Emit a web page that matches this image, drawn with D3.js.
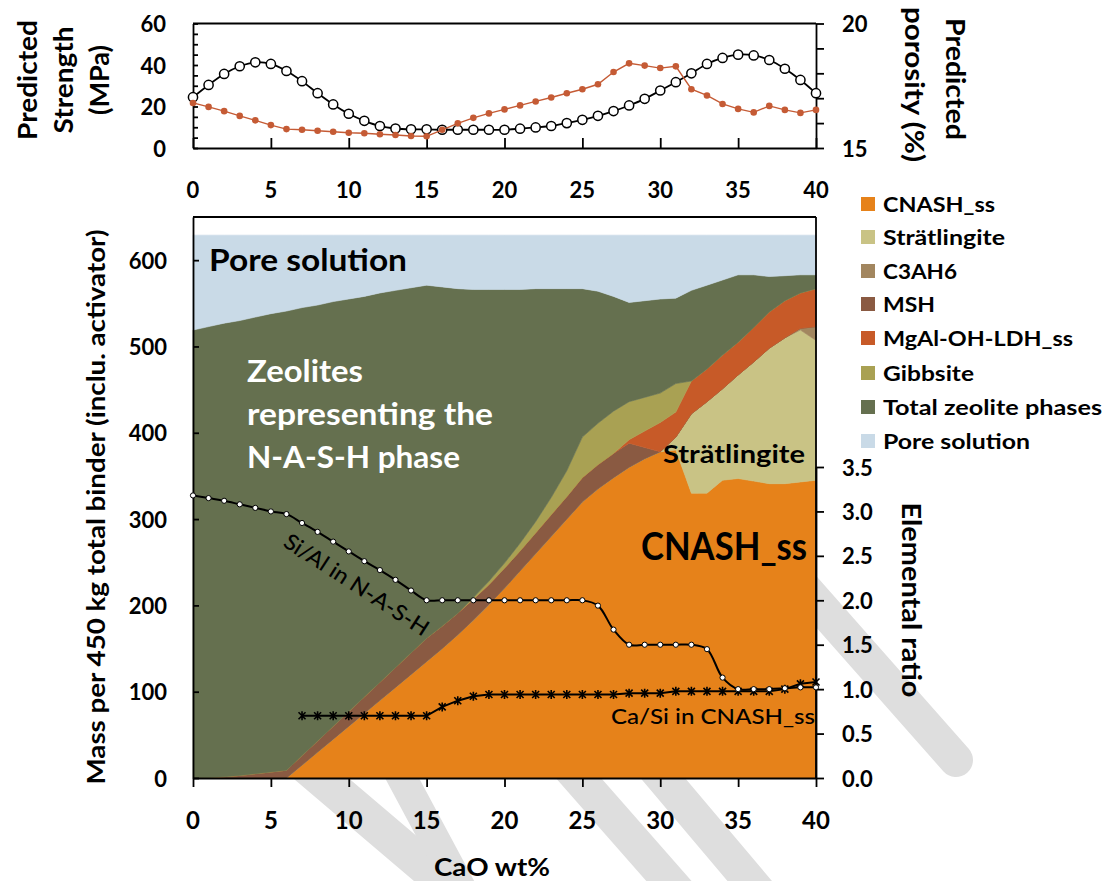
<!DOCTYPE html>
<html>
<head>
<meta charset="utf-8">
<script src="https://cdn.jsdelivr.net/npm/d3@7"></script>
<style>
  body { margin: 0; background: #fff; }
  svg { display: block; }
  text { font-family: Lato, "Open Sans", sans-serif; }
</style>
</head>
<body>
<svg id="chart" width="1112" height="881"></svg>
<script>
// ---- data -------------------------------------------------------------
const cao = d3.range(0, 41); // CaO wt%

// predicted properties (top panel)
const strength = [24.5,30.4,35.7,39.4,41.3,40.5,37.1,32.2,26.4,21.0,
                  16.5,13.1,10.6,9.4,9.0,9.0,8.8,8.8,8.8,8.8,
                  8.8,9.3,9.9,10.6,12.0,13.6,15.5,17.8,20.5,23.7,
                  27.7,31.7,36.0,40.5,43.4,45.0,44.6,42.4,38.2,32.8,26.4];
const porosity = [16.81,16.65,16.48,16.29,16.11,15.92,15.76,15.73,15.69,15.65,
                  15.61,15.59,15.55,15.52,15.48,15.47,15.73,15.99,16.21,16.39,
                  16.55,16.71,16.87,17.03,17.20,17.36,17.56,18.05,18.40,18.31,
                  18.21,18.28,17.36,17.11,16.77,16.57,16.43,16.69,16.53,16.41,16.53];

// phase assemblage, mass per 450 kg binder (stacked, bottom to top)
const cnash    = [0,0,0,0,0,0,0,15,30,45, 60,75,90,105,120,135,150,166,183,201,
                  220,240,260,280,300,320,335,348,360,370, 378,380,330,330,345,347,344,341,341,343,345];
const strat    = [0,0,0,0,0,0,0,0,0,0, 0,0,0,0,0,0,0,0,0,0,
                  0,0,0,0,0,0,0,0,0,0, 0,15,92,106,106,120,138,157,169,176,162];
const c3ah6    = [0,0,0,0,0,0,0,0,0,0, 0,0,0,0,0,0,0,0,0,0,
                  0,0,0,0,0,0,0,0,0,0, 0,0,0,0,0,0,0,0,0,2,16];
const msh      = [0,0.5,1.5,3,5,7,9,11,13,15, 17,19,21,23,25,27,26,25,24,23,
                  23,23,24,25,26,28,28,28,28,13, 0,0,0,0,0,0,0,0,0,0,0];
const mgal     = [0,0,0,0,0,0,0,0,0,0, 0,0,0,0,0,0,0,0,0,0,
                  0,0,0,0,0,0,0,0,4,19, 34,29,38,38,39,38,40,42,43,41,44];
const gibbsite = [0,0,0,0,0,0,0,0,0,0, 0,0,0,0,0,0,0,0,2,4,
                  6,9,13,20,30,47,48,49,44,39, 34,33,0,0,0,0,0,0,0,0,0];
const zeolite  = [519,522.5,525.5,527,529,531,532,519,505,492, 478,464,451,437,423,409,393,376,357,338,
                  317,294,270,242,211,172,153,133,115,112, 109,99,105,97,87,78,61,41,29,21,16];
const pore     = [110,106,102,99,95,91,88,84,81,77, 74,71,67,64,61,58,60,62,63,63,
                  63,63,62,62,62,62,65,71,78,76, 74,73,64,58,52,46,46,48,47,46,46];

// elemental ratios (secondary axis)
const siAl = [3.18,3.15,3.12,3.08,3.04,3.00,2.97,2.87,2.77,2.66,
              2.55,2.44,2.34,2.23,2.11,2.00,2.00,2.00,2.00,2.00,
              2.00,2.00,2.00,2.00,2.00,2.00,1.94,1.67,1.50,1.50,
              1.50,1.50,1.50,1.45,1.13,1.00,1.00,1.00,1.01,1.02,1.02];
const caSiX = d3.range(7, 41);
const caSi = [0.70,0.70,0.70,0.70,0.70,0.70,0.70,0.70,0.70,0.80,
              0.87,0.92,0.94,0.94,0.94,0.94,0.94,0.94,0.94,0.94,
              0.94,0.955,0.955,0.955,0.975,0.975,0.975,0.975,0.975,0.975,
              0.975,1.00,1.06,1.08];

const phases = ["CNASH_ss","Strätlingite","C3AH6","MSH","MgAl-OH-LDH_ss","Gibbsite","Total zeolite phases","Pore solution"];
const phaseColors = ["#E6821A","#C9C385","#A2865F","#8A5A42","#C75A28","#A9A153","#65704F","#C9DAE7"];
const phaseSeries = [cnash, strat, c3ah6, msh, mgal, gibbsite, zeolite, pore];

const xTicks = [0,5,10,15,20,25,30,35,40];
const massTicks = [0,100,200,300,400,500,600];
const ratioTicks = [0,0.5,1,1.5,2,2.5,3,3.5];
const strengthTicks = [0,20,40,60];
const porosityTicks = [15,20];

// ---- scales -----------------------------------------------------------
const svg = d3.select("#chart");
const x  = d3.scaleLinear().domain([0, 40]).range([193, 816]);
const yS = d3.scaleLinear().domain([0, 60]).range([148, 23.5]);
const yP = d3.scaleLinear().domain([15, 20]).range([148, 23.5]);
const yM = d3.scaleLinear().domain([0, 650]).range([778, 217]);
const yR = d3.scaleLinear().domain([0, 3.5]).range([778, 467]);

const fit = (sel, w) => sel.attr("textLength", w).attr("lengthAdjust", "spacingAndGlyphs");

// ---- background watermark strokes (mostly hidden by the plot) ---------
const wm = svg.append("g").attr("stroke", "#DEDEDE").attr("stroke-linecap", "round")
  .attr("fill", "none");
[[[700,470],[956,760],34], [[270,735],[470,905],36], [[395,765],[470,905],30],
 [[560,757],[690,905],34], [[645,757],[770,905],34]].forEach(([a, b, w]) =>
  wm.append("path").attr("d", d3.line()([a, b])).attr("stroke-width", w));

// ---- top panel --------------------------------------------------------
const upper = svg.append("g");
const axStyle = g => g.selectAll("path,line").attr("stroke", "#000").attr("stroke-width", 1.8);

upper.append("g").attr("transform", `translate(${x(0)},0)`)
  .call(d3.axisLeft(yS).tickValues(d3.range(0, 61, 5)).tickSizeInner(-5).tickSizeOuter(0).tickFormat(""))
  .call(axStyle);
upper.append("g").attr("transform", `translate(${x(40)},0)`)
  .call(d3.axisRight(yP).tickValues([15,16,17,18,19,20]).tickSizeInner(8).tickSizeOuter(0).tickFormat(""))
  .call(axStyle);
upper.append("g").attr("transform", `translate(0,${yS(0)})`)
  .call(d3.axisBottom(x).tickValues(xTicks).tickSizeInner(-10).tickSizeOuter(0).tickFormat(""))
  .call(axStyle);
upper.append("line").attr("x1", x(0)).attr("x2", x(40)).attr("y1", yS(60)).attr("y2", yS(60))
  .attr("stroke", "#000").attr("stroke-width", 1.8);

upper.selectAll(".sl").data(strengthTicks).join("text")
  .attr("x", 166).attr("y", d => yS(d)).attr("text-anchor", "end").attr("dominant-baseline", "central")
  .attr("font-size", 22).attr("font-weight", 700).text(d => d);
upper.selectAll(".pl").data(porosityTicks).join("text")
  .attr("x", 842).attr("y", d => yP(d)).attr("dominant-baseline", "central")
  .attr("font-size", 22).attr("font-weight", 700).text(d => d);
upper.selectAll(".xl").data(xTicks).join("text")
  .attr("x", d => x(d)).attr("y", 189).attr("text-anchor", "middle").attr("dominant-baseline", "central")
  .attr("font-size", 22).attr("font-weight", 700).text(d => d);

[["Predicted", 27, 120], ["Strength", 63, 107], ["(MPa)", 99, 70]].forEach(([t, cx, w]) =>
  upper.append("text").attr("transform", `translate(${cx},80) rotate(-90)`)
    .attr("text-anchor", "middle").attr("dominant-baseline", "central")
    .attr("font-size", 26).attr("font-weight", 700).text(t).call(fit, w));
[["Predicted", 956, 79, 122], ["porosity (%)", 915, 84.5, 155]].forEach(([t, cx, cy, w]) =>
  upper.append("text").attr("transform", `translate(${cx},${cy}) rotate(90)`)
    .attr("text-anchor", "middle").attr("dominant-baseline", "central")
    .attr("font-size", 26).attr("font-weight", 700).text(t).call(fit, w));

// strength (smoothed, open circles)
upper.append("path").datum(strength)
  .attr("d", d3.line().x((d, i) => x(cao[i])).y(d => yS(d)).curve(d3.curveCatmullRom.alpha(0.5)))
  .attr("fill", "none").attr("stroke", "#000").attr("stroke-width", 1.8);
upper.selectAll(".sc").data(strength).join("circle")
  .attr("cx", (d, i) => x(cao[i])).attr("cy", d => yS(d)).attr("r", 4.6)
  .attr("fill", "#fff").attr("stroke", "#000").attr("stroke-width", 1.5);

// porosity (straight, filled dots)
upper.append("path").datum(porosity)
  .attr("d", d3.line().x((d, i) => x(cao[i])).y(d => yP(d)))
  .attr("fill", "none").attr("stroke", "#C55B35").attr("stroke-width", 1.4);
upper.selectAll(".pc").data(porosity).join("circle")
  .attr("cx", (d, i) => x(cao[i])).attr("cy", d => yP(d)).attr("r", 3.3)
  .attr("fill", "#C55B35");

// ---- main panel: stacked phase areas ---------------------------------
const table = cao.map((c, i) => {
  const row = { cao: c };
  phases.forEach((p, k) => row[p] = phaseSeries[k][i]);
  return row;
});
const stacked = d3.stack().keys(phases)(table);
const area = d3.area().x(d => x(d.data.cao)).y0(d => yM(d[0])).y1(d => yM(d[1]));
const main = svg.append("g");
main.selectAll(".layer").data(stacked).join("path")
  .attr("d", area)
  .attr("fill", (d, i) => phaseColors[i])
  .attr("stroke", (d, i) => phaseColors[i]).attr("stroke-width", 0.6);

// axes
main.append("g").attr("transform", `translate(${x(0)},0)`)
  .call(d3.axisLeft(yM).tickValues(massTicks).tickSizeInner(-6).tickSizeOuter(0).tickFormat(""))
  .call(axStyle);
main.append("line").attr("x1", x(40)).attr("x2", x(40)).attr("y1", yM(650)).attr("y2", yM(0))
  .attr("stroke", "#000").attr("stroke-width", 1.8);
main.append("g").attr("transform", `translate(${x(40)},0)`)
  .call(d3.axisRight(yR).tickValues(ratioTicks).tickSizeInner(8).tickSizeOuter(0).tickFormat(""))
  .call(axStyle);
main.append("g").attr("transform", `translate(0,${yM(0)})`)
  .call(d3.axisBottom(x).tickValues(xTicks).tickSizeInner(9).tickSizeOuter(0).tickFormat(""))
  .call(axStyle);
main.append("line").attr("x1", x(0)).attr("x2", x(40)).attr("y1", yM(650)).attr("y2", yM(650))
  .attr("stroke", "#000").attr("stroke-width", 1.8);

main.selectAll(".ml").data(massTicks).join("text")
  .attr("x", 167).attr("y", d => yM(d)).attr("text-anchor", "end").attr("dominant-baseline", "central")
  .attr("font-size", 22).attr("font-weight", 700).text(d => d);
main.selectAll(".rl").data(ratioTicks).join("text")
  .attr("x", 842).attr("y", d => yR(d)).attr("dominant-baseline", "central")
  .attr("font-size", 22).attr("font-weight", 700).text(d => d.toFixed(1));
main.selectAll(".bl").data(xTicks).join("text")
  .attr("x", d => x(d)).attr("y", 819).attr("text-anchor", "middle").attr("dominant-baseline", "central")
  .attr("font-size", 24).attr("font-weight", 700).text(d => d);

main.append("text").attr("transform", "translate(95,507) rotate(-90)")
  .attr("text-anchor", "middle").attr("dominant-baseline", "central")
  .attr("font-size", 24).attr("font-weight", 700)
  .text("Mass per 450 kg total binder (inclu. activator)").call(fit, 555);
main.append("text").attr("transform", "translate(912,600) rotate(90)")
  .attr("text-anchor", "middle").attr("dominant-baseline", "central")
  .attr("font-size", 26).attr("font-weight", 700).text("Elemental ratio").call(fit, 195);
main.append("text").attr("x", 492).attr("y", 866).attr("text-anchor", "middle")
  .attr("dominant-baseline", "central").attr("font-size", 24).attr("font-weight", 700)
  .text("CaO wt%").call(fit, 116);

// elemental ratio lines
main.append("path").datum(siAl)
  .attr("d", d3.line().x((d, i) => x(cao[i])).y(d => yR(d)).curve(d3.curveCatmullRom.alpha(0.5)))
  .attr("fill", "none").attr("stroke", "#000").attr("stroke-width", 2);
main.append("path").datum(caSi)
  .attr("d", d3.line().x((d, i) => x(caSiX[i])).y(d => yR(d)))
  .attr("fill", "none").attr("stroke", "#000").attr("stroke-width", 2);
main.selectAll(".cs").data(caSi).join("path")
  .attr("transform", (d, i) => `translate(${x(caSiX[i])},${yR(d)})`)
  .attr("d", "M-3.5,-3.5L3.5,3.5M-3.5,3.5L3.5,-3.5M0,-4.5L0,4.5")
  .attr("stroke", "#000").attr("stroke-width", 1.6).attr("fill", "none");
main.selectAll(".sa").data(siAl).join("circle")
  .attr("cx", (d, i) => x(cao[i])).attr("cy", d => yR(d)).attr("r", 2.6)
  .attr("fill", "#fff").attr("stroke", "#000").attr("stroke-width", 1);

// in-plot annotations
const note = (t, px, py, size, w, opts = {}) => main.append("text")
  .attr("x", px).attr("y", py).attr("font-size", size)
  .attr("font-weight", opts.weight || 700).attr("fill", opts.fill || "#000")
  .text(t).call(fit, w);
note("Pore solution", 209, 271, 30, 198);
note("Zeolites", 247, 382, 30, 116, { fill: "#fff" });
note("representing the", 247, 425, 30, 246, { fill: "#fff" });
note("N-A-S-H phase", 247, 468, 30, 213, { fill: "#fff" });
note("Strätlingite", 663, 463, 24, 142);
note("CNASH_ss", 641, 560, 38, 166);
note("Ca/Si in CNASH_ss", 611, 724, 22, 204, { weight: 500 });
main.append("text").attr("transform", "translate(357,584) rotate(33)")
  .attr("text-anchor", "middle").attr("dominant-baseline", "central")
  .attr("font-size", 22).attr("font-weight", 500).text("Si/Al in N-A-S-H").call(fit, 168);

// ---- legend -----------------------------------------------------------
const legendY = [204, 237, 271, 304, 338, 373, 407, 441];
const legendW = [112, 122, 74, 52, 190, 91, 219, 147];
const legend = svg.append("g");
phases.forEach((p, i) => {
  legend.append("rect").attr("x", 861).attr("y", legendY[i] - 7).attr("width", 14).attr("height", 14)
    .attr("fill", phaseColors[i]);
  legend.append("text").attr("x", 883).attr("y", legendY[i]).attr("dominant-baseline", "central")
    .attr("font-size", 20).attr("font-weight", 700).text(p).call(fit, legendW[i]);
});
</script>
</body>
</html>
